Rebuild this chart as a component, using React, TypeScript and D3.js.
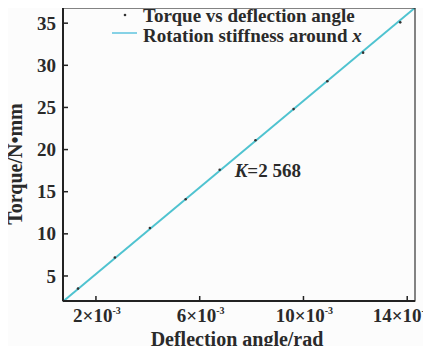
import React, { useEffect, useRef } from "react";
import * as d3 from "d3";

// measured points (x in rad, y in N·mm)
const angles = [1.31e-3, 2.73e-3, 4.08e-3, 5.46e-3, 6.77e-3, 8.15e-3, 9.62e-3, 10.92e-3, 12.3e-3, 13.73e-3];
const torques = [3.5, 7.2, 10.7, 14.1, 17.6, 21.1, 24.8, 28.1, 31.5, 35.1];
const stiffness = 2568;
const intercept = 0.1;
const xTicks = [2e-3, 6e-3, 10e-3, 14e-3];
const xTickLabels = ["2", "6", "10", "14"];
const yTicks = [5, 10, 15, 20, 25, 30, 35];

export default function App() {
  const svgRef = useRef<SVGSVGElement>(null);

  useEffect(() => {
    const W = 431;
    const H = 350;
    const margin = { top: 8, right: 16, bottom: 49, left: 63 };
    const width = W - margin.left - margin.right;
    const height = H - margin.top - margin.bottom;
    const font = "'Liberation Serif', 'Times New Roman', serif";
    const ink = "#2a2a2a";

    const svg = d3.select(svgRef.current).attr("width", W).attr("height", H);
    svg.selectAll("*").remove();
    svg.append("rect").attr("width", W).attr("height", H).attr("fill", "#fcfcfc");

    const g = svg.append("g").attr("transform", `translate(${margin.left},${margin.top})`);

    const x = d3.scaleLinear().domain([0.73e-3, 14.3e-3]).range([0, width]);
    const y = d3.scaleLinear().domain([2.03, 36.8]).range([height, 0]);

    // fitted line
    const xs = x.domain();
    g.append("line")
      .attr("x1", x(xs[0]))
      .attr("y1", y(stiffness * xs[0] + intercept))
      .attr("x2", x(xs[1]))
      .attr("y2", y(stiffness * xs[1] + intercept))
      .attr("stroke", "#4fc3d0")
      .attr("stroke-width", 2);

    // points
    g.selectAll("circle.pt")
      .data(angles.map((a, i) => [a, torques[i]]))
      .join("circle")
      .attr("class", "pt")
      .attr("cx", (d) => x(d[0]))
      .attr("cy", (d) => y(d[1]))
      .attr("r", 1.3)
      .attr("fill", "#333");

    // frame
    g.append("rect")
      .attr("width", width)
      .attr("height", height)
      .attr("fill", "none")
      .attr("stroke", "#333")
      .attr("stroke-width", 1.2);
    g.append("line").attr("x1", 0).attr("x2", 0).attr("y1", 0).attr("y2", height)
      .attr("stroke", "#222").attr("stroke-width", 2);
    g.append("line").attr("x1", 0).attr("x2", width).attr("y1", height).attr("y2", height)
      .attr("stroke", "#222").attr("stroke-width", 2);

    // y ticks
    const yt = g.append("g");
    yTicks.forEach((t) => {
      yt.append("line").attr("x1", 0).attr("x2", 5).attr("y1", y(t)).attr("y2", y(t))
        .attr("stroke", "#222").attr("stroke-width", 1.5);
      yt.append("text")
        .attr("x", -7)
        .attr("y", y(t))
        .attr("dy", "0.35em")
        .attr("text-anchor", "end")
        .attr("font-family", font)
        .attr("font-size", 19)
        .attr("font-weight", "bold")
        .attr("fill", ink)
        .text(t);
    });

    // x ticks
    const xt = g.append("g");
    xTicks.forEach((t, i) => {
      xt.append("line").attr("x1", x(t)).attr("x2", x(t)).attr("y1", height).attr("y2", height - 5)
        .attr("stroke", "#222").attr("stroke-width", 1.5);
      const last = i === xTicks.length - 1;
      const txt = xt.append("text")
        .attr("x", x(t) + (last ? -6 : 1))
        .attr("y", height + 21)
        .attr("text-anchor", "middle")
        .attr("font-family", font)
        .attr("font-size", 19)
        .attr("font-weight", "bold")
        .attr("fill", ink);
      txt.append("tspan").text(`${xTickLabels[i]}×10`);
      txt.append("tspan").attr("dy", -8).attr("font-size", 10).text("-3");
    });

    // axis titles
    svg.append("text")
      .attr("x", margin.left + width / 2 - 2)
      .attr("y", H - 4)
      .attr("text-anchor", "middle")
      .attr("font-family", font)
      .attr("font-size", 20)
      .attr("font-weight", "bold")
      .attr("fill", ink)
      .text("Deflection angle/rad");
    svg.append("text")
      .attr("transform", `translate(22,164) rotate(-90)`)
      .attr("text-anchor", "middle")
      .attr("font-family", font)
      .attr("font-size", 20)
      .attr("font-weight", "bold")
      .attr("fill", ink)
      .text("Torque/N•mm");

    // K annotation
    const k = g.append("text")
      .attr("x", x(6.77e-3) + 15)
      .attr("y", y(17.6) + 7)
      .attr("font-family", font)
      .attr("font-size", 19)
      .attr("font-weight", "bold")
      .attr("fill", ink);
    k.append("tspan").attr("font-style", "italic").text("K");
    k.append("tspan").text("=2 568");

    // legend
    const lg = g.append("g");
    lg.append("circle").attr("cx", 62).attr("cy", 7).attr("r", 1.3).attr("fill", "#333");
    lg.append("text")
      .attr("x", 80).attr("y", 14)
      .attr("font-family", font).attr("font-size", 19).attr("font-weight", "bold").attr("fill", ink)
      .text("Torque vs deflection angle");
    lg.append("line").attr("x1", 49).attr("x2", 74).attr("y1", 25).attr("y2", 25)
      .attr("stroke", "#86d2e6").attr("stroke-width", 2);
    const l2 = lg.append("text")
      .attr("x", 80).attr("y", 33.5)
      .attr("font-family", font).attr("font-size", 19).attr("font-weight", "bold").attr("fill", ink);
    l2.append("tspan").text("Rotation stiffness around ");
    l2.append("tspan").attr("font-style", "italic").text("x");
  }, []);

  return (
    <div style={{ margin: -8 }}>
      <svg ref={svgRef}></svg>
    </div>
  );
}
